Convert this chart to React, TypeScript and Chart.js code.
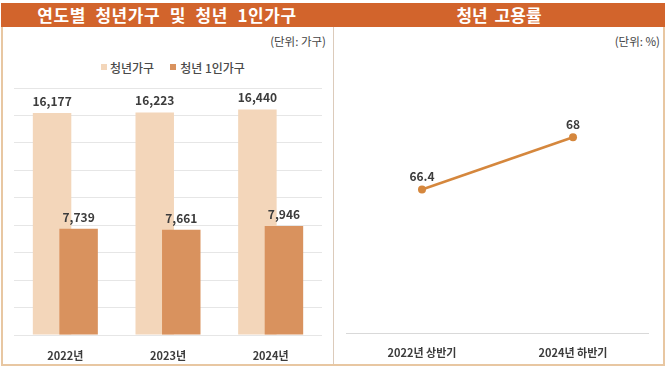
import React, { useEffect, useRef } from 'react';
import { Chart, registerables } from 'chart.js';

Chart.register(...registerables);

// ---------- data ----------
const years = ['2022년', '2023년', '2024년'];
const youthHouseholds = [16177, 16223, 16440];
const youthSingleHouseholds = [7739, 7661, 7946];
const householdAxisMax = 18000;
const householdAxisStep = 2000;

const periods = ['2022년 상반기', '2024년 하반기'];
const employmentRate = [66.4, 68];
const rateAxisMin = 62;
const rateAxisMax = 70;

// ---------- styles ----------
const FONT = '"Noto Sans CJK KR", "Noto Sans", sans-serif';
const HEADER = '#d2642c';
const FRAME = '#e8c7a2';
const LIGHT = '#f3d6ba';
const DARK = '#d9925e';
const LINE = '#d5873d';
const TEXT = '#3c3c3c';

const fmt = (v: number) => v.toLocaleString('en-US');

const makeValueLabels = (offset: number, format: (v: number) => string) => ({
  id: 'valueLabels',
  afterDraw(chart: any) {
    const ctx = chart.ctx;
    ctx.save();
    ctx.font = `bold 12px ${FONT}`;
    ctx.fillStyle = TEXT;
    ctx.textAlign = 'center';
    ctx.textBaseline = 'alphabetic';
    chart.data.datasets.forEach((ds: any, i: number) => {
      const meta = chart.getDatasetMeta(i);
      meta.data.forEach((el: any, j: number) => {
        ctx.fillText(format(ds.data[j]), el.x, el.y - offset);
      });
    });
    ctx.restore();
  },
});

// draw datasets in index order so the second (darker) bar sits on top
const drawInIndexOrder = {
  id: 'drawInIndexOrder',
  beforeDatasetsDraw(chart: any) {
    const metas = chart.getSortedVisibleDatasetMetas();
    for (const m of metas) m.controller.draw();
    return false;
  },
};

function BarChart() {
  const ref = useRef<HTMLCanvasElement>(null);
  useEffect(() => {
    const chart = new Chart(ref.current!, {
      type: 'bar',
      data: {
        labels: years,
        datasets: [
          {
            label: '청년가구',
            data: youthHouseholds,
            backgroundColor: LIGHT,
            categoryPercentage: 0.517,
            barPercentage: 1.45,
          },
          {
            label: '청년 1인가구',
            data: youthSingleHouseholds,
            backgroundColor: DARK,
            categoryPercentage: 0.517,
            barPercentage: 1.45,
          },
        ],
      },
      options: {
        responsive: false,
        maintainAspectRatio: false,
        animation: false,
        layout: { padding: { left: 10, right: 9, top: 8, bottom: 7.8 } },
        plugins: { legend: { display: false }, tooltip: { enabled: false } },
        scales: {
          x: {
            grid: { display: false, drawTicks: false },
            border: { display: false },
            ticks: {
              padding: 14,
              color: TEXT,
              font: { family: FONT, size: 11, weight: 'bold' },
            },
          },
          y: {
            min: 0,
            max: householdAxisMax,
            grid: { color: '#e6e6e6', drawTicks: false },
            border: { display: false },
            ticks: { display: false, stepSize: householdAxisStep },
          },
        },
      },
      plugins: [drawInIndexOrder, makeValueLabels(7, fmt)],
    } as any);
    return () => chart.destroy();
  }, []);
  return (
    <canvas
      ref={ref}
      width={327}
      height={304}
      style={{ position: 'absolute', left: 4, top: 80, width: 327, height: 304 }}
    />
  );
}

function LineChart() {
  const ref = useRef<HTMLCanvasElement>(null);
  useEffect(() => {
    const chart = new Chart(ref.current!, {
      type: 'line',
      data: {
        labels: periods,
        datasets: [
          {
            label: '청년 고용률',
            data: employmentRate,
            borderColor: LINE,
            backgroundColor: LINE,
            borderWidth: 2.5,
            pointRadius: 4,
            pointBackgroundColor: LINE,
            pointBorderColor: LINE,
            pointBorderWidth: 0,
            tension: 0,
          },
        ],
      },
      options: {
        responsive: false,
        maintainAspectRatio: false,
        animation: false,
        layout: { padding: { left: 11.5, right: 14.5, top: 12, bottom: 4.8 } },
        plugins: { legend: { display: false }, tooltip: { enabled: false } },
        scales: {
          x: {
            offset: true,
            grid: { display: false, drawTicks: false },
            border: { display: true, color: '#d9d9d9', width: 1 },
            ticks: {
              padding: 13,
              color: TEXT,
              font: { family: FONT, size: 11, weight: 'bold' },
            },
          },
          y: {
            display: false,
            min: rateAxisMin,
            max: rateAxisMax,
          },
        },
      },
      plugins: [makeValueLabels(8, (v) => String(v))],
    } as any);
    return () => chart.destroy();
  }, []);
  return (
    <canvas
      ref={ref}
      width={328}
      height={317}
      style={{ position: 'absolute', left: 335, top: 60, width: 328, height: 317 }}
    />
  );
}

const abs = (s: React.CSSProperties): React.CSSProperties => ({ position: 'absolute', ...s });

export default function App() {
  return (
    <div
      style={abs({
        left: 0,
        top: 0,
        width: 670,
        height: 370,
        background: '#fff',
        fontFamily: FONT,
        overflow: 'hidden',
      })}
    >
      <BarChart />
      <LineChart />

      {/* frame */}
      <div style={abs({ left: 0, top: 366, width: 670, height: 10, background: '#fff' })} />
      <div style={abs({ left: 1, top: 3, width: 664, height: 24, background: HEADER })} />
      <div style={abs({ left: 1, top: 27, width: 2, height: 339, background: FRAME })} />
      <div style={abs({ left: 663, top: 27, width: 2, height: 339, background: FRAME })} />
      <div style={abs({ left: 1, top: 364, width: 664, height: 2, background: FRAME })} />
      <div style={abs({ left: 333, top: 27, width: 1, height: 337, background: '#dccbbb' })} />

      {/* headers */}
      <div
        style={abs({
          left: 1,
          top: 3,
          width: 332,
          height: 24,
          lineHeight: '24px',
          textAlign: 'center',
          color: '#fff',
          fontWeight: 'bold',
          fontSize: 17,
          wordSpacing: 5,
          letterSpacing: 0.6,
        })}
      >
        연도별 청년가구 및 청년 1인가구
      </div>
      <div
        style={abs({
          left: 333,
          top: 3,
          width: 332,
          height: 24,
          lineHeight: '24px',
          textAlign: 'center',
          color: '#fff',
          fontWeight: 'bold',
          fontSize: 17,
          wordSpacing: 3,
        })}
      >
        청년 고용률
      </div>

      {/* units */}
      <div style={abs({ right: 670 - 326, top: 33, fontSize: 11.5, lineHeight: '16px', color: '#444' })}>
        (단위: 가구)
      </div>
      <div style={abs({ right: 670 - 660, top: 33, fontSize: 11.5, lineHeight: '16px', color: '#444' })}>
        (단위: %)
      </div>

      {/* legend */}
      <div style={abs({ left: 101, top: 59, height: 16, display: 'flex', alignItems: 'center', fontSize: 12, color: '#4a4a4a', fontWeight: 500 })}>
        <span style={{ width: 6, height: 6, background: LIGHT, display: 'inline-block', marginRight: 3 }} />
        <span>청년가구</span>
        <span style={{ width: 6, height: 6, background: DARK, display: 'inline-block', marginLeft: 16, marginRight: 4 }} />
        <span>청년 1인가구</span>
      </div>
    </div>
  );
}
